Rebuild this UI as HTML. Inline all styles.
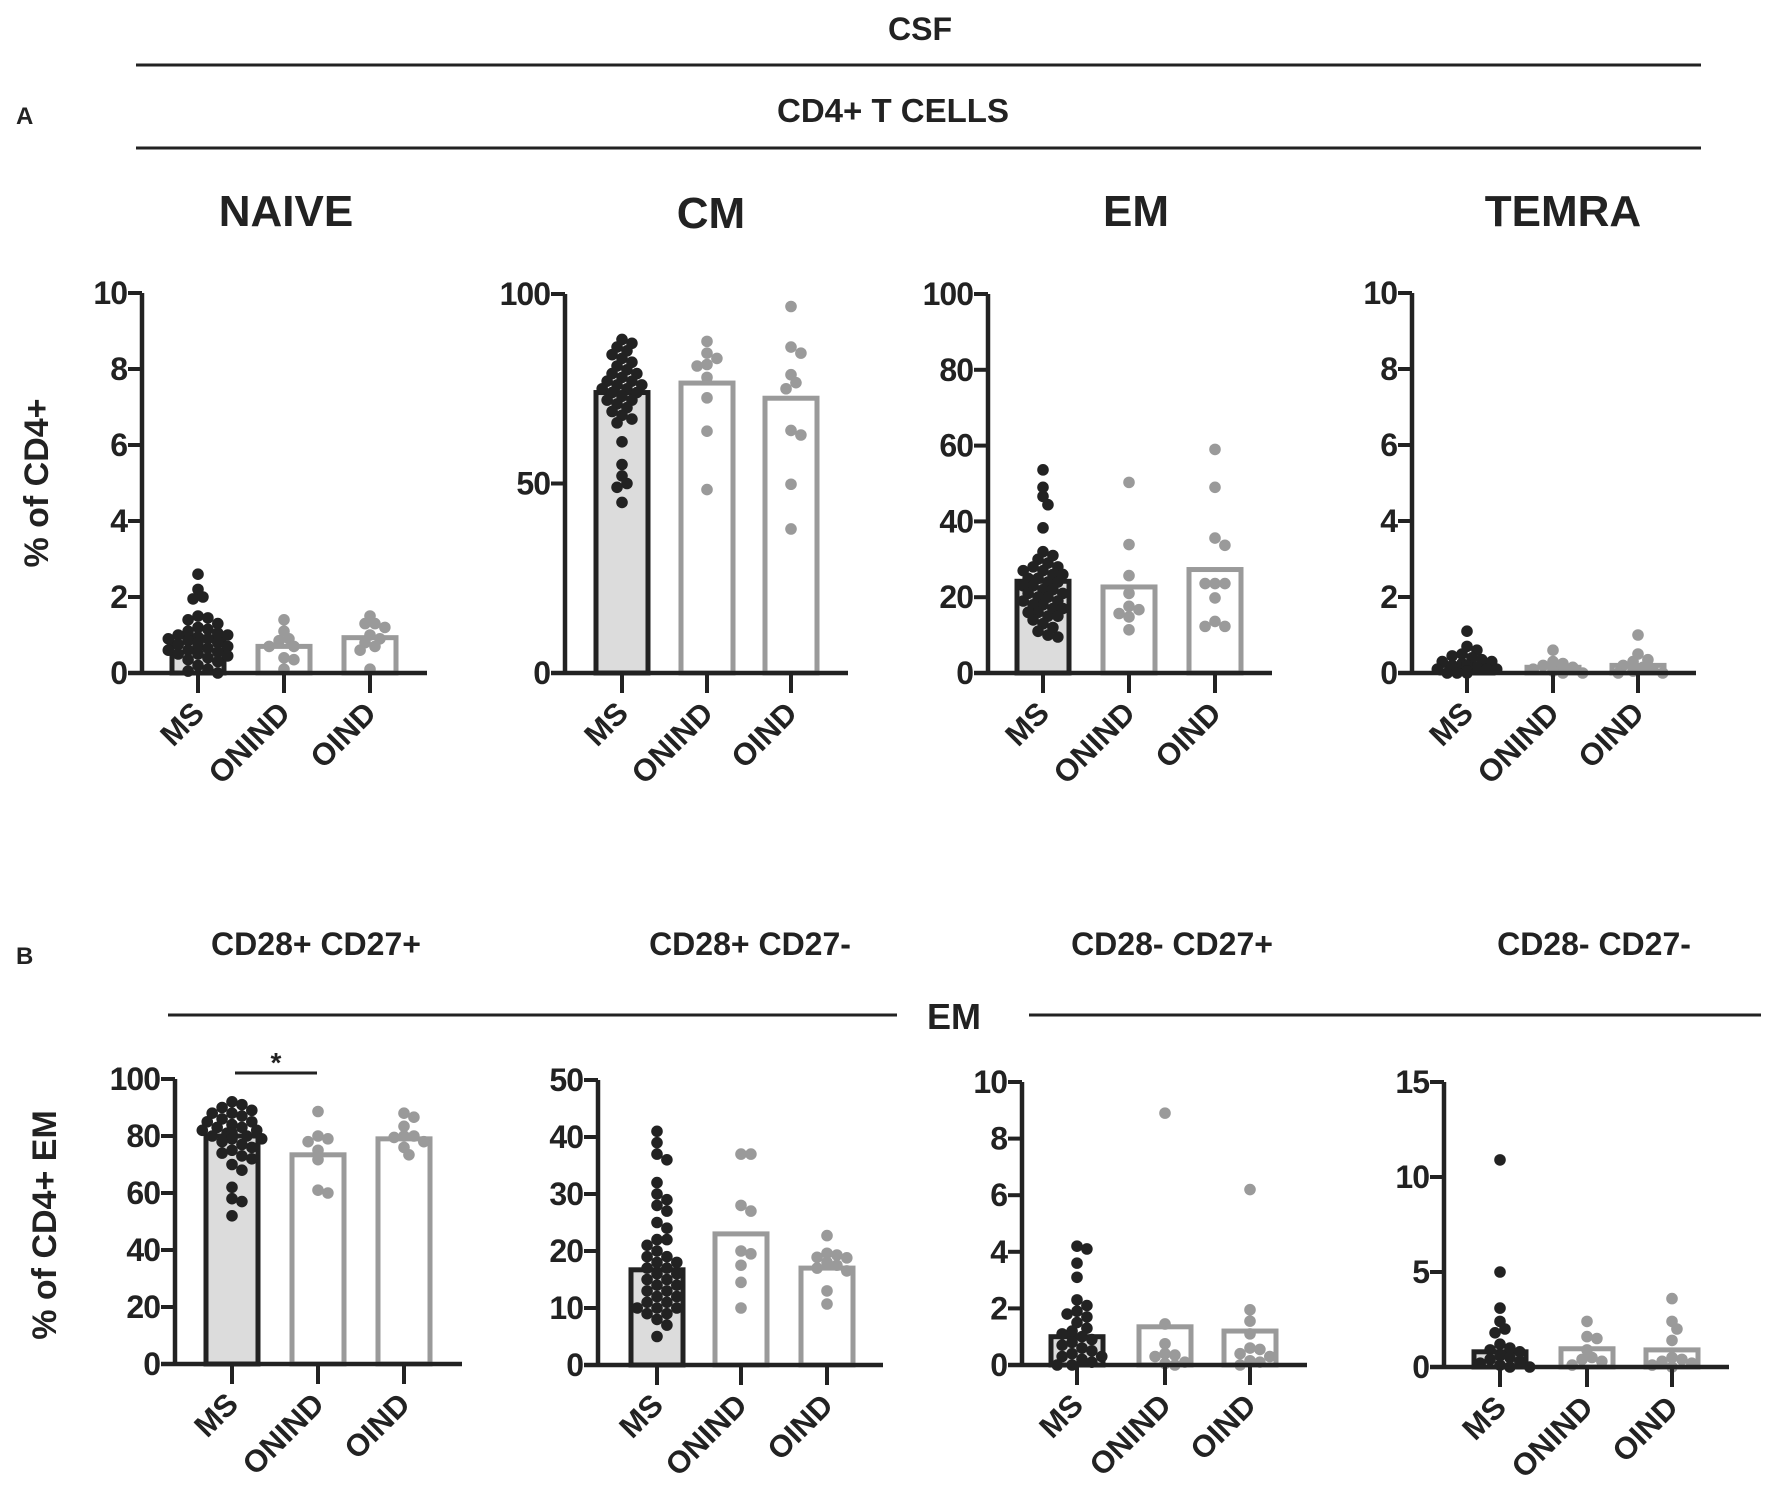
<!DOCTYPE html>
<html><head><meta charset="utf-8"><style>
html,body{margin:0;padding:0;background:#fff;}
svg{display:block;font-family:"Liberation Sans",Arial,sans-serif;font-weight:bold;}
</style></head><body>
<svg id="fig" width="1772" height="1500" viewBox="0 0 1772 1500" xmlns="http://www.w3.org/2000/svg">
<g fill="#222">
<text x="920" y="40" font-size="32" text-anchor="middle">CSF</text>
<line x1="136" y1="65" x2="1701" y2="65" stroke="#222" stroke-width="3"/>
<text x="16" y="124" font-size="24">A</text>
<text x="893" y="122" font-size="33" text-anchor="middle">CD4+ T CELLS</text>
<line x1="136" y1="148" x2="1701" y2="148" stroke="#222" stroke-width="3"/>
<text x="286" y="226" font-size="44" text-anchor="middle">NAIVE</text>
<text x="711" y="228" font-size="44" text-anchor="middle">CM</text>
<text x="1136" y="226" font-size="44" text-anchor="middle">EM</text>
<text x="1563" y="226" font-size="44" text-anchor="middle">TEMRA</text>
<text x="16" y="964" font-size="24">B</text>
<text x="316" y="955" font-size="32" text-anchor="middle">CD28+ CD27+</text>
<text x="750" y="955" font-size="32" text-anchor="middle">CD28+ CD27-</text>
<text x="1172" y="955" font-size="32" text-anchor="middle">CD28- CD27+</text>
<text x="1594" y="955" font-size="32" text-anchor="middle">CD28- CD27-</text>
<line x1="168" y1="1015" x2="897" y2="1015" stroke="#222" stroke-width="3"/>
<text x="954" y="1029" font-size="36" text-anchor="middle">EM</text>
<line x1="1029" y1="1015" x2="1761" y2="1015" stroke="#222" stroke-width="3"/>
<text transform="translate(48,483) rotate(-90)" font-size="34" text-anchor="middle">% of CD4+</text>
<text transform="translate(56,1225) rotate(-90)" font-size="34" text-anchor="middle">% of CD4+ EM</text>
<line x1="235" y1="1073" x2="317" y2="1073" stroke="#222" stroke-width="3"/>
<text x="276" y="1072" font-size="28" text-anchor="middle">*</text>
</g>
</svg>
<script>
const categories = ["MS","ONIND","OIND"];
const panelNames = ["naive","cm","em","temra","cd28p-cd27p","cd28p-cd27n","cd28n-cd27p","cd28n-cd27n"];
const yMax = [10,100,100,10,100,50,10,15];
const yTicks = [[0,2,4,6,8,10],[0,50,100],[0,20,40,60,80,100],[0,2,4,6,8,10],[0,20,40,60,80,100],[0,10,20,30,40,50],[0,2,4,6,8,10],[0,5,10,15]];
const meansMS = [0.95,74,24.2,0.2,80,16.7,1.0,0.8];
const meansONIND = [0.7,76.5,22.7,0.15,73.4,23,1.35,0.96];
const meansOIND = [0.93,72.5,27.3,0.2,79,17,1.2,0.9];
const pointsMS = [
 [2.6,2.2,2.0,1.95,1.5,1.45,1.4,1.3,1.2,1.15,1.1,1.05,1.0,1.0,0.95,0.9,0.9,0.85,0.8,0.8,0.75,0.7,0.7,0.65,0.6,0.6,0.55,0.5,0.5,0.45,0.4,0.35,0.3,0.2,0.1,0.05,0.0],
 [88,87,86,85,84,83,82,81,80,79,79,78,77,77,76,76,75,75,74,74,73,72,72,71,70,69,68,67,66,61,55,52,50,49,45],
 [53.6,49,46.6,44.4,38.3,32,31,30,29,28,28,27,27,26,26,25,25,24,24,23,23,22,22,21,21,20,20,19,19,18,18,17,17,16,16,15,15,14,13,12,11,10,9.5],
 [1.1,0.7,0.6,0.5,0.45,0.4,0.35,0.3,0.3,0.25,0.2,0.2,0.2,0.15,0.15,0.1,0.1,0.1,0.05,0.05,0.0,0.0,0.0],
 [92,91,90,89,88,88,87,86,85,85,84,83,83,82,82,81,81,80,80,79,79,78,77,76,75,74,73,72,70,68,62,58,57,52],
 [41,39,37,36,32,30,29,28,27,25,24,22,22,21,20,19,19,18,18,17,17,16,16,15,15,14,14,13,13,12,12,11,11,10,10,10,9,9,8,7,5],
 [4.2,4.1,3.6,3.1,2.3,2.1,1.9,1.8,1.7,1.5,1.3,1.2,1.1,1.0,0.9,0.8,0.7,0.6,0.5,0.4,0.3,0.3,0.2,0.1,0.0,0.0],
 [10.9,5.0,3.1,2.4,2.0,1.8,1.2,1.0,0.9,0.8,0.6,0.5,0.4,0.3,0.2,0.1,0.0,0.0]
];
const pointsONIND = [
 [1.4,1.1,0.9,0.85,0.7,0.7,0.4,0.35,0.1],
 [87.5,84.4,83,81.4,81,78,72.6,63.8,48.4],
 [50.3,33.9,25.7,21,17.6,16.7,15.7,14.8,11.4],
 [0.6,0.3,0.25,0.2,0.15,0.1,0.05,0.0,0.0],
 [88.6,80,79,78,75,71.7,61,60],
 [37,37,28,27,20,19.5,17.5,14.5,10],
 [8.9,1.45,0.75,0.4,0.35,0.3,0.1,0.05,0.0],
 [2.4,1.6,1.5,0.9,0.5,0.4,0.3,0.1]
];
const pointsOIND = [
 [1.5,1.3,1.3,1.2,1.0,0.9,0.8,0.7,0.6,0.1],
 [96.7,86,84.4,78.7,76.6,75,64,62.8,49.8,38],
 [59,49,35.6,33.7,23.6,23.6,23.6,19.8,13.6,12.3,12.3],
 [1.0,0.5,0.35,0.3,0.2,0.15,0.1,0.05,0.0,0.0],
 [88,86.6,83.4,80,80,79.5,78,76,73.4],
 [22.7,19.6,19.3,18.9,18.8,18,17.5,17,16.5,13,10.7],
 [6.2,1.95,1.55,1.1,0.6,0.55,0.4,0.3,0.15,0.1,0.0],
 [3.6,2.4,2.0,1.4,0.5,0.4,0.3,0.2,0.1,0.0]
];
// layout (pixel geometry, not data)
const layout = [
 {ax:142,top:293,zero:673,cats:[198,284,370],xend:427},
 {ax:565,top:294,zero:673,cats:[622,707,791],xend:848},
 {ax:988,top:294,zero:673,cats:[1043,1129,1215],xend:1272},
 {ax:1412,top:293,zero:673,cats:[1467,1553,1638],xend:1696},
 {ax:175,top:1079,zero:1364,cats:[232,318,404],xend:462},
 {ax:598,top:1080,zero:1365,cats:[657,741,827],xend:883},
 {ax:1022,top:1082,zero:1365,cats:[1077,1165,1250],xend:1307},
 {ax:1444,top:1082,zero:1367,cats:[1500,1587,1672],xend:1729}
];
const NS="http://www.w3.org/2000/svg";
const svg=document.getElementById('fig');
function mk(tag,attrs,parent){const e=document.createElementNS(NS,tag);for(const k in attrs)e.setAttribute(k,attrs[k]);parent.appendChild(e);return e;}
function yScale(L,max){return v=>L.zero-(v/max)*(L.zero-L.top);}
function swarm(vals,cx,ys,r,maxOff){
  const placed=[];const out=[];
  vals.forEach(v=>{const y=ys(v);let x=cx;
    for(let k=0;k<40;k++){const off=(k%2?1:-1)*Math.ceil(k/2)*r*0.9;
      const tx=cx+off;if(Math.abs(off)>maxOff)continue;
      if(placed.every(p=>Math.hypot(p[0]-tx,p[1]-y)>=r*1.6)){x=tx;break;}}
    placed.push([x,y]);out.push([x,y]);});
  return out;
}
layout.forEach((L,i)=>{
  const g=mk('g',{},svg);
  
  
  const ys=yScale(L,yMax[i]);
  const means=[meansMS[i],meansONIND[i],meansOIND[i]];
  const pts=[pointsMS[i],pointsONIND[i],pointsOIND[i]];
  categories.forEach((c,j)=>{
    const cx=L.cats[j];const dark=j===0;
    const top=ys(means[j]);
    const b=mk('rect',{x:cx-26,y:top,width:52,height:Math.max(0,L.zero-top),fill:dark?'#dcdcdc':'#fff',stroke:dark?'#222':'#9a9a9a','stroke-width':5},g);
    
    
    swarm(pts[j],cx,ys,5.5,32).forEach(p=>{
      const d=mk('circle',{cx:p[0],cy:p[1],r:5.8,fill:dark?'#222':'#9a9a9a'},g);
      
      
    });
  });
  const ya=mk('line',{x1:L.ax,y1:L.top,x2:L.ax,y2:L.zero,stroke:'#222','stroke-width':4.5},g);
  
  
  const xa=mk('line',{x1:L.ax-14,y1:L.zero,x2:L.xend,y2:L.zero,stroke:'#222','stroke-width':4.5},g);
  
  
  yTicks[i].forEach(t=>{
    const y=ys(t);
    mk('line',{x1:L.ax-14,y1:y,x2:L.ax,y2:y,stroke:'#222','stroke-width':4},g);
    const tl=mk('text',{x:L.ax-15,y:y+11,'font-size':32,'text-anchor':'end',fill:'#222','letter-spacing':-1},g);
    tl.textContent=t;
    
    
  });
  categories.forEach((c,j)=>{
    const cx=L.cats[j];
    mk('line',{x1:cx,y1:L.zero,x2:cx,y2:L.zero+20,stroke:'#222','stroke-width':4},g);
    const t=mk('text',{transform:`translate(${cx+8},${L.zero+42}) rotate(-45)`,'font-size':31,'text-anchor':'end',fill:'#222'},g);
    t.textContent=c;
    
    
  });
});
</script>
</body></html>
